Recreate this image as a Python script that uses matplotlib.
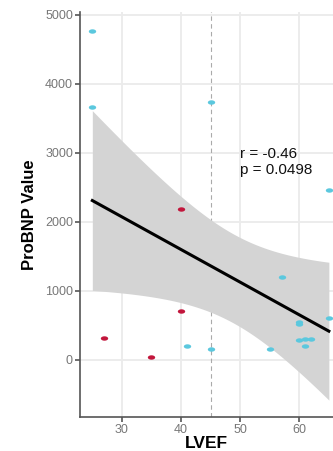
import numpy as np
import matplotlib.pyplot as plt
from matplotlib.path import Path

plt.rcParams['font.family'] = ['Liberation Sans', 'DejaVu Sans']

# dữ liệu
lvef_blue = [25, 25, 45, 65, 57, 65, 60, 60, 60, 61, 62, 61, 41, 45, 55]
bnp_blue = [4770, 3670, 3745, 2460, 1200, 610, 515, 550, 285, 300, 310, 205, 210, 160, 160]
lvef_red = [40, 40, 27, 35]
bnp_red = [2195, 710, 315, 50]

r_text = "r = -0.46\np = 0.0498"
cutoff = 45

x = np.array(lvef_blue + lvef_red, dtype=float)
y = np.array(bnp_blue + bnp_red, dtype=float)

# hồi quy tuyến tính + khoảng tin cậy 95%
n = len(x)
slope, inter = np.polyfit(x, y, 1)
resid = y - (slope * x + inter)
s = np.sqrt(np.sum(resid**2) / (n - 2))
xs = np.linspace(x.min(), x.max(), 100)
ys = slope * xs + inter
t = 2.110  # t(0.975, 17)
se = s * np.sqrt(1 / n + (xs - x.mean())**2 / np.sum((x - x.mean())**2))

# marker hình elip
th = np.linspace(0, 2 * np.pi, 40)
ell = Path(np.column_stack((np.cos(th), 0.6 * np.sin(th))))

fig = plt.figure(figsize=(3.33, 4.51), dpi=100)
ax = fig.add_axes([0.24, 0.0754, 0.76, 0.898])

ax.fill_between(xs, ys - t * se, ys + t * se, color='#D4D4D4', lw=0, zorder=2)
ax.plot(xs, ys, color='black', lw=2.2, zorder=3)
ax.axvline(cutoff, color='#AAAAAA', ls=(0, (4, 3)), lw=0.8, zorder=1.5)
ax.scatter(lvef_blue, bnp_blue, marker=ell, s=28, color='#5BC8DE', lw=0, zorder=4)
ax.scatter(lvef_red, bnp_red, marker=ell, s=28, color='#C2163C', lw=0, zorder=4)

ax.text(50, 2870, r_text, fontsize=11, color='#111111', linespacing=1.2, va='center', ha='left', zorder=5)

ax.set_xlim(22.9, 65.7)
ax.set_ylim(-826, 5043)
ax.set_xticks([30, 40, 50, 60])
ax.set_yticks([0, 1000, 2000, 3000, 4000, 5000])
ax.grid(True, color='#EBEBEB', lw=1.3, zorder=0)
ax.set_axisbelow(True)

for sp in ['top', 'right']:
    ax.spines[sp].set_visible(False)
for sp in ['left', 'bottom']:
    ax.spines[sp].set_color('#555555')
    ax.spines[sp].set_linewidth(1.2)
ax.tick_params(colors='#555555', labelcolor='#777777', labelsize=9, length=3.5, width=1.2, pad=1.5)

ax.set_xlabel('LVEF', fontsize=12.5, fontweight='bold', labelpad=0)
ax.set_ylabel('ProBNP Value', fontsize=12, fontweight='bold', labelpad=6)

plt.savefig('out.png', dpi=100)
